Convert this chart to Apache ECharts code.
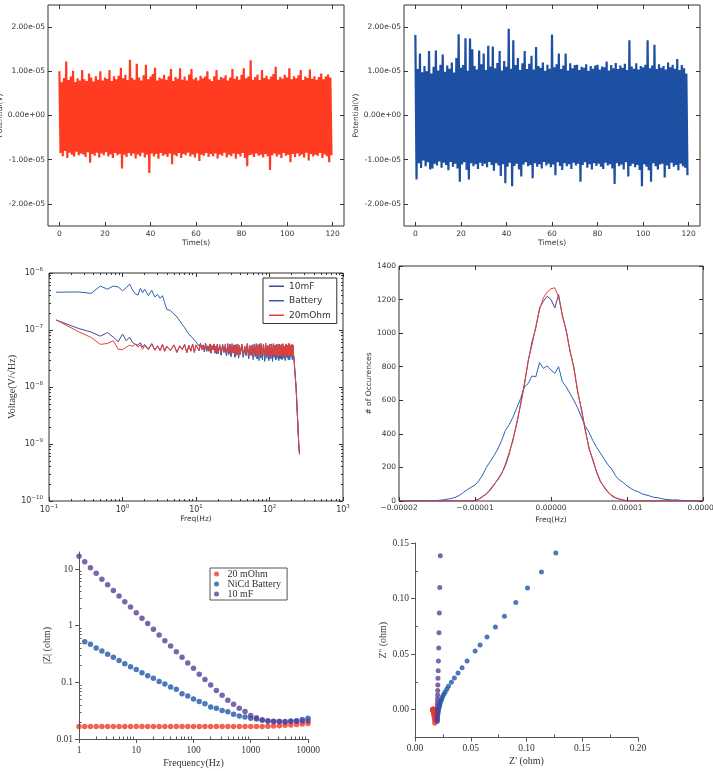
<!DOCTYPE html>
<html><head><meta charset="utf-8">
<script src="https://cdn.jsdelivr.net/npm/echarts@6/dist/echarts.min.js"></script>
<style>html,body{margin:0;padding:0;background:#fff}#c{width:713px;height:771px}</style>
</head><body><div id="c"></div>
<script>
// ===================== DATA =====================
// Top panels: per-second upper / lower envelope of the noise trace (units of 1e-6 V)
const timeTicks = [0, 20, 40, 60, 80, 100, 120];
const potentialTicks = [-2e-5, -1e-5, 0, 1e-5, 2e-5];
const noiseRedHi = [
 10,7.5,8.5,12.2,8,8.8,10.1,7.6,8.4,7.9,
 10.3,8.2,7.8,9.5,8.6,7.7,8.9,8.1,10,7.9,
 8.6,8.3,10.3,7.8,8.9,8.2,9,10.8,8.4,9.2,
 8,12.6,8.5,8.1,11.7,8.6,7.9,9.1,11.5,8.2,
 8.8,9.4,10.8,7.9,8.6,8.3,9.2,8.1,8.9,10.5,
 7.8,8.7,8.3,10.7,8.1,8.8,7.9,9.3,10.5,8.2,
 8.6,7.9,9,8.4,8.8,10,8.2,7.8,8.9,10.3,
 8.1,8.7,8.4,9.1,7.9,8.6,10.5,8.3,8.9,8.1,
 9.2,10.7,8.4,8.8,12.5,8.1,8.7,9.3,8,10.3,
 8.5,9,8.2,8.8,9.4,11,8.1,8.7,8.3,9.2,
 8.6,10.7,8.2,8.9,8.4,9.1,10.3,8,8.8,8.5,
 10.4,8.3,8.9,8.1,8.7,9.5,8.2,8.8,9.3,8.6];
const noiseRedLo = [
 -8.5,-9.2,-8,-9.6,-8.4,-8.9,-9.3,-8.2,-9,-8.6,
 -8.8,-9.4,-8.3,-10.7,-8.7,-9.1,-8.4,-9.5,-8.6,-9,
 -8.3,-9.3,-8.8,-9.6,-8.5,-9,-8.7,-12,-8.9,-9.4,
 -8.5,-9.1,-8.6,-9.7,-8.8,-9.2,-8.4,-9.5,-8.9,-13,
 -8.6,-9.3,-8.7,-9.8,-8.5,-9.1,-8.8,-9.4,-8.6,-11,
 -8.9,-9.2,-8.5,-9.6,-8.7,-9,-8.4,-9.3,-8.8,-9.5,
 -8.6,-10.3,-8.9,-9.1,-8.5,-9.4,-8.7,-9.2,-8.6,-9.7,
 -8.8,-9.1,-8.4,-9.5,-8.9,-9.2,-8.6,-9.8,-8.7,-9.3,
 -8.5,-9.6,-11.5,-9,-8.8,-9.4,-8.6,-9.1,-8.9,-9.5,
 -8.7,-9.2,-12.3,-9,-8.6,-9.3,-8.8,-9.6,-8.5,-9.1,
 -8.9,-10.6,-8.7,-9.4,-8.6,-9.2,-8.8,-9.5,-8.4,-10.2,
 -8.7,-9.3,-8.9,-9.1,-8.5,-9.6,-8.8,-9.2,-10.6,-9];
const noiseBlueHi = [
 18.2,10.5,14,9.8,11.2,10,14.6,9.5,11,14.7,
 10.2,11.5,13.8,9.9,11.3,10.6,12,9.7,13,18.4,
 10.8,11.4,17.5,10.1,17.4,15,11.2,10.4,14.7,11.6,
 14,10.3,15.8,11.1,15.6,10.7,11.9,14.6,10.2,12.3,
 11,19.6,10.6,17,11.4,13,10.3,11.8,14.6,10.5,
 11.7,13.5,10.4,15.5,11.2,10.8,12,10.1,11.5,10.6,
 18.3,10.9,11.6,14,10.5,11.3,14,10.2,11.8,10.7,
 11.4,11.5,10.3,11,10.8,11.6,10.1,11.2,10.6,11.3,
 11.5,10.4,11.1,10.9,12.2,10.2,11.4,10.7,11.9,10.5,
 11.3,10.8,11.7,10.3,17,11.1,10.6,11.8,10.4,11.2,
 10.9,11.5,17,10.7,11.3,16,10.5,11.6,10.8,11.2,
 10.4,12,10.9,11.5,10.6,12.8,10.3,11.4,10.7,9.5];
const noiseBlueLo = [
 -14.5,-10.8,-11.9,-10.2,-11.5,-10.6,-12.2,-12,-10.9,-11.3,
 -10.4,-11.8,-10.7,-11.2,-12.4,-10.5,-11.6,-10.9,-12,-15,
 -11.1,-10.6,-12.3,-14.5,-10.8,-11.5,-11,-12.1,-10.7,-11.4,
 -10.9,-11.7,-10.5,-11.2,-12.5,-10.8,-11.3,-13.7,-11,-15.3,
 -11.6,-10.7,-16,-11.4,-10.9,-12.2,-13.8,-11.1,-10.6,-11.5,
 -11.2,-14.2,-10.8,-11.6,-11,-12,-10.5,-11.3,-10.9,-11.7,
 -11.1,-13.5,-10.6,-11.4,-12.3,-10.8,-11.5,-11,-12.1,-10.7,
 -11.3,-10.9,-15,-11.2,-10.6,-11.8,-11,-12.2,-10.8,-11.4,
 -10.9,-11.6,-12.1,-10.7,-11.3,-11,-12,-15.5,-10.8,-11.5,
 -11.1,-12.2,-10.6,-13.8,-11.4,-10.9,-11.7,-11.2,-12.3,-16,
 -11,-11.6,-12.4,-15,-10.8,-11.5,-12.2,-11.1,-10.9,-14,
 -11.3,-12.1,-10.7,-11.6,-11.2,-12.4,-10.9,-11.5,-11.8,-13.5];

// Middle-left: noise spectral density (units of 1e-8 V/sqrt(Hz))
const psdFreq = [0.125,0.25,0.375,0.5,0.625,0.75,0.875,1,1.125,1.25,1.375,1.5,1.625,1.75,1.875,2,
 2.25,2.5,2.75,3,3.25,3.5,3.75,4,4.5,5,5.5,6,6.5,7,7.5,8,8.5,9,9.5,10,
 10.5,11,11.5,12,12.5,13,13.5,14,14.5,15,15.5,16,16.5,17,17.5,18,18.5,19,19.5,20,
 21,22,23,24,25,26,27,28,29,30,31,32,33,34,35,36,37,38,39,40,
 42,44,46,48,50,52,54,56,58,60,62,64,66,68,70,72,74,76,78,80,
 83,86,89,92,95,98,101,104,107,110,113,116,119,122,125,128,131,134,137,140,
 144,148,152,156,160,164,168,172,176,180,184,188,192,196,200,204,208,212,
 216,220,225,230,240,250,256];
const psd10mF = [15,10.7,9.2,7.8,9.0,7.5,6.2,8.5,6.5,7.5,6.0,5.6,5.4,6.0,5.0,5.6,
 4.7,5.8,4.5,5.3,4.4,5.6,4.3,5.2,4.4,5.5,4.1,5.3,4.6,5.6,4.0,5.4,4.3,5.7,4.1,5.5,
 5.4,4.3,5.8,4.6,5.2,4.1,5.6,4.4,5.0,4.2,5.7,3.9,5.3,4.5,5.5,4.0,5.1,3.8,5.6,4.2,
 5.2,3.7,5.6,4.1,5.0,3.6,5.4,3.9,5.7,3.5,5.1,4.0,5.5,3.4,5.2,3.8,5.6,3.3,5.0,3.7,
 5.5,3.4,5.1,3.8,5.7,3.2,5.3,3.6,5.0,3.3,5.6,3.5,5.2,3.1,5.4,3.7,5.8,3.2,5.1,3.4,
 5.6,3.0,5.2,3.5,5.4,3.1,5.0,3.3,5.7,2.9,5.3,3.4,5.5,3.0,5.1,3.6,5.4,3.1,5.6,3.2,
 5.2,3.1,5.5,3.3,5.0,3.0,5.7,3.4,5.3,3.2,5.6,3.0,5.4,3.5,5.1,3.3,5.5,3.7,
 3.1,2.1,1.45,0.98,0.31,0.1,0.066];
const psdBattery = [46,46.5,44,59,52,59,57,49,55,64,50,43,41,54,45,52,
 40,50,38,42,36,40,30,23,22,19,17,14.5,12.5,11,9.5,8.5,8,7.2,6.8,6.2,
 6.0,5.2,5.8,4.6,5.5,4.4,5.9,4.2,5.3,4.8,5.6,4.0,5.1,4.5,5.7,3.9,5.2,4.3,5.6,3.8,
 5.4,3.6,5.5,4.0,5.2,3.5,5.8,3.7,5.0,3.4,5.5,3.9,5.3,3.3,5.6,3.6,5.1,3.2,5.4,3.8,
 5.6,3.3,5.2,3.5,5.7,3.1,5.0,3.6,5.5,3.0,5.3,3.4,5.8,3.1,5.1,2.9,5.4,3.3,5.6,3.0,
 5.2,2.8,5.5,3.2,5.0,2.9,5.7,3.1,5.3,2.8,5.4,3.3,5.1,3.0,5.6,3.2,5.2,2.9,5.5,3.1,
 5.3,3.0,5.6,3.2,5.1,2.9,5.5,3.3,5.4,3.0,5.7,3.1,5.2,3.4,5.5,3.0,5.3,3.6,
 3.0,2.0,1.4,0.95,0.3,0.1,0.066];
const psd20mOhm = [15,9.4,7.4,5.6,5.8,6.5,4.6,4.5,5.0,5.4,5.2,5.6,5.0,5.5,4.6,5.3,
 4.5,5.6,4.4,5.2,4.3,5.5,4.2,5.1,4.4,5.4,4.0,5.2,4.5,5.5,4.0,5.3,4.2,5.6,4.0,5.4,
 5.5,4.4,5.7,4.5,5.3,4.2,5.8,4.6,5.1,4.3,5.6,4.1,5.4,4.6,5.7,4.0,5.2,4.2,5.5,3.9,
 5.6,3.9,5.3,4.2,5.7,3.8,5.2,4.1,5.5,3.7,5.8,4.0,5.1,3.6,5.4,3.9,5.7,3.5,5.3,3.8,
 5.6,3.6,5.2,3.9,5.8,3.5,5.4,3.7,5.1,3.4,5.7,3.8,5.3,3.5,5.6,3.6,5.2,3.4,5.8,3.7,
 5.5,3.4,5.9,3.6,5.2,3.5,5.6,3.3,5.4,3.7,5.8,3.4,5.1,3.6,5.5,3.3,5.7,3.5,5.3,3.6,
 5.6,3.4,5.8,3.5,5.2,3.3,5.7,3.6,5.4,3.4,5.9,3.5,5.3,3.7,5.6,3.4,5.5,3.8,
 3.2,2.2,1.5,1.0,0.32,0.1,0.066];

// Middle-right: histogram of the noise (bin centres in units of 1e-6 V)
const histX = [-20,-19.5,-19,-18.5,-18,-17.5,-17,-16.5,-16,-15.5,-15,-14.5,-14,-13.5,-13,-12.5,-12,-11.5,-11,-10.5,
 -10,-9.5,-9,-8.5,-8,-7.5,-7,-6.5,-6,-5.5,-5,-4.5,-4,-3.5,-3,-2.5,-2,-1.5,-1,-0.5,
 0,0.5,1,1.5,2,2.5,3,3.5,4,4.5,5,5.5,6,6.5,7,7.5,8,8.5,9,9.5,
 10,10.5,11,11.5,12,12.5,13,13.5,14,14.5,15,15.5,16,16.5,17,17.5,18,18.5,19,19.5,20];
const hist10mF = [0,0,0,0,0,0,0,0,0,0,0,0,0,0,0,0,0,0,0,0,
 3,12,28,40,65,95,130,165,210,280,370,460,580,700,830,950,1030,1150,1190,1220,
 1200,1150,1230,1100,1020,890,800,650,550,430,310,250,170,115,85,55,30,18,12,6,
 2,0,0,0,0,0,0,0,0,0,0,0,0,0,0,0,0,0,0,0,0];
const histBattery = [0,0,0,0,0,1,1,2,2,3,3,5,8,12,16,24,35,52,68,82,
 95,120,155,200,235,270,310,360,420,455,500,555,610,680,700,745,740,825,790,805,
 780,760,800,710,680,640,600,555,500,445,410,360,320,285,250,215,190,150,125,110,
 90,75,62,55,42,36,30,22,20,15,10,8,6,7,4,3,2,1,1,0,0];
const hist20mOhm = [0,0,0,0,0,0,0,0,0,0,0,0,0,0,0,0,0,0,0,0,
 2,10,25,45,70,100,125,160,220,290,360,470,570,690,840,930,1040,1140,1210,1245,
 1265,1270,1215,1110,1010,900,790,660,540,420,320,240,175,120,80,50,35,20,10,5,
 2,0,0,0,0,0,0,0,0,0,0,0,0,0,0,0,0,0,0,0,0];

// Bottom-left: |Z| vs frequency
const eisFreq = [1,1.259,1.585,1.995,2.512,3.162,3.981,5.012,6.31,7.943,
 10,12.59,15.85,19.95,25.12,31.62,39.81,50.12,63.1,79.43,
 100,125.9,158.5,199.5,251.2,316.2,398.1,501.2,631,794.3,
 1000,1259,1585,1995,2512,3162,3981,5012,6310,7943,10000];
const mag20mOhm = [0.0166,0.0166,0.0166,0.0166,0.0166,0.0166,0.0166,0.0166,0.0166,0.0166,
 0.0166,0.0166,0.0166,0.0166,0.0166,0.0166,0.0166,0.0166,0.0166,0.0166,
 0.0166,0.0166,0.0166,0.0166,0.0166,0.0166,0.0166,0.0166,0.0166,0.0166,
 0.0166,0.0166,0.0167,0.0168,0.0170,0.0171,0.0174,0.0176,0.0180,0.0184,0.0188];
const magBattery = [null,0.522,0.469,0.404,0.357,0.312,0.277,0.242,0.214,0.189,
 0.168,0.148,0.131,0.118,0.104,0.0935,0.0828,0.0753,0.0632,0.0575,
 0.0509,0.0457,0.0421,0.0368,0.0349,0.0317,0.0304,0.0273,0.0255,0.0245,
 0.0232,0.0226,0.0217,0.0208,0.0206,0.0203,0.0203,0.0208,0.0211,0.0220,0.0232];
const mag10mF = [16.9,13.5,10.5,8.4,6.6,5.3,4.2,3.34,2.65,2.13,
 1.70,1.35,1.09,0.863,0.686,0.545,0.438,0.348,0.277,0.220,
 0.177,0.139,0.112,0.090,0.0715,0.0591,0.0482,0.041,0.0349,0.0305,
 0.0259,0.0236,0.0217,0.0208,0.0203,0.0203,0.0200,0.0203,0.0206,0.0208,0.0211];

// Bottom-right: Nyquist (Z' , Z'') in ohm
const nyqRe20mOhm = [0.0161,0.0162,0.0162,0.0161,0.0162,0.0162,0.0162,0.0161,0.0162,0.0162,
 0.0162,0.0162,0.0161,0.0162,0.0162,0.0162,0.0162,0.0162,0.0162,0.0162,
 0.0162,0.0162,0.0162,0.0163,0.0162,0.0163,0.0163,0.0163,0.0163,
 0.0163,0.0163,0.0164,0.0165,0.0166,0.0167,0.0168,0.0170,0.0171,0.0173,0.0175,0.0177];
const nyqIm20mOhm = [0.0006,0.0005,0.0005,0.0004,0.0004,0.0003,0.0003,0.0003,0.0002,0.0002,
 0.0002,0.0001,0.0001,0.0001,0,0,0,-0.0001,-0.0001,-0.0001,
 -0.0002,-0.0002,-0.0002,-0.0003,-0.0003,-0.0004,-0.0004,-0.0005,-0.0006,
 -0.0008,-0.0011,-0.0014,-0.0018,-0.0023,-0.0030,-0.0038,-0.0048,-0.0060,-0.0076,-0.0096,-0.0121];
const nyqReBattery = [0.1263,0.1134,0.1009,0.0904,0.0802,0.0721,0.0646,0.0584,0.0539,0.0467,0.0422,0.0386,0.0353,0.0326,
 0.0300,0.0285,0.0270,0.0258,0.0248,0.0240,0.0233,0.0226,0.0222,0.0218,0.0214,0.0211,0.0208,0.0206,0.0204,0.0202,0.0200,0.0199];
const nyqImBattery = [0.1409,0.1238,0.1094,0.0965,0.0842,0.0744,0.0654,0.0582,0.0528,0.0438,0.0378,0.0330,0.0285,0.0246,
 0.0210,0.0185,0.0160,0.0140,0.0118,0.0098,0.0080,0.0062,0.0045,0.0030,0.0015,0,-0.0015,-0.0030,-0.0045,-0.0060,-0.0078,-0.0096];
const nyqRe10mF = [0.0227,0.0222,0.0218,0.0215,0.0213,0.0210,0.0208,0.0206,0.0205,0.0204,
 0.0203,0.0202,0.0201,0.0200,0.0200,0.0200,0.0199,0.0199,0.0199,0.0199];
const nyqIm10mF = [0.1385,0.110,0.087,0.0692,0.0555,0.0438,0.0351,0.0282,0.0222,0.0174,
 0.0132,0.0096,0.0062,0.0033,0.0008,-0.0015,-0.0038,-0.0060,-0.0082,-0.0105];

// ===================== STYLE / BUILD =====================
const SANS = 'DejaVu Sans', SERIF = 'Liberation Serif', INK = '#333', AX = '#555';
const C_RED_TOP = '#ff3b22', C_BLUE_TOP = '#1d4fa3';
const C_10MF = '#3d4a9f', C_BAT = '#2b62b3', C_20M = '#ee3d33';
const C_E_RED = '#ee3b24', C_E_BLUE = '#1f57a8', C_E_PURPLE = '#5a3f98';

const xAxes = [], yAxes = [], series = [];
function axis(dim, grid, o) {
  const a = {
    gridIndex: grid, type: o.type || 'value', position: o.pos, min: o.min, max: o.max,
    axisLine: { show: !!o.line, onZero: false, lineStyle: { color: AX, width: 1 } },
    axisTick: o.ticks ? { show: true, inside: o.inside !== false, length: o.len || 4,
      customValues: o.ticks, lineStyle: { color: o.tickColor || INK, width: 1 } } : { show: false },
    axisLabel: o.labels ? { show: true, customValues: o.ticks, formatter: o.fmt, fontSize: o.fs,
      fontFamily: o.ff, color: INK, margin: o.margin, rich: o.rich, hideOverlap: false } : { show: false },
    splitLine: { show: false }, silent: true, z: 5
  };
  if (a.type === 'log') a.logBase = 10;
  if (o.name) {
    a.name = o.name; a.nameLocation = 'middle'; a.nameGap = o.nameGap;
    a.nameTextStyle = { fontSize: o.nfs || o.fs, fontFamily: o.nff || o.ff, color: INK };
  }
  const arr = dim === 'x' ? xAxes : yAxes;
  arr.push(a); return arr.length - 1;
}
function sci(v) {
  if (v === 0) return '0.00e+00';
  const parts = v.toExponential(2).split('e');
  const sign = parts[1][0] === '-' ? '-' : '+';
  let d = parts[1].replace(/^[+-]/, ''); if (d.length < 2) d = '0' + d;
  return parts[0] + 'e' + sign + d;
}
function minorsLog(e0, e1) { const r = []; for (let e = e0; e <= e1; e++) for (let k = 2; k <= 9; k++) r.push(+(k * Math.pow(10, e)).toPrecision(3)); return r; }

const grids = [
  { left: 48, top: 5, width: 296, height: 221 },
  { left: 404, top: 5, width: 296, height: 221 },
  { left: 49, top: 273, width: 294, height: 228 },
  { left: 399, top: 266, width: 304, height: 235 },
  { left: 79, top: 552, width: 229, height: 187 },
  { left: 415, top: 543, width: 223, height: 194.5 }
].map((g, i) => Object.assign(g, { containLabel: false, outerBoundsMode: 'none',
  show: i < 4, borderColor: INK, borderWidth: 1, backgroundColor: 'transparent' }));

// --- top panels ---
function zigzag(hi, lo) { const d = []; for (let i = 0; i < hi.length; i++) { d.push([i, hi[i] * 1e-6]); d.push([i + 0.5, lo[i] * 1e-6]); } return d; }
[[0, noiseRedHi, noiseRedLo, C_RED_TOP, 41], [1, noiseBlueHi, noiseBlueLo, C_BLUE_TOP, 40]].forEach(([g, hi, lo, col, ng]) => {
  const xb = axis('x', g, { pos: 'bottom', min: -5, max: 125, ticks: timeTicks, labels: true, fs: 7.5, ff: SANS, margin: 4, name: 'Time(s)', nameGap: 13 });
  axis('x', g, { pos: 'top', min: -5, max: 125, ticks: timeTicks });
  const yl = axis('y', g, { pos: 'left', min: -2.5e-5, max: 2.5e-5, ticks: potentialTicks, labels: true, fmt: sci, fs: 7.5, ff: SANS, margin: 3, name: 'Potential(V)', nameGap: ng });
  axis('y', g, { pos: 'right', min: -2.5e-5, max: 2.5e-5, ticks: potentialTicks });
  series.push({ type: 'line', name: 'trace' + g, xAxisIndex: xb, yAxisIndex: yl, data: zigzag(hi, lo), symbol: 'none', showSymbol: false,
    sampling: null, lineStyle: { color: col, width: 2.2, join: 'miter' }, itemStyle: { color: col }, silent: true, clip: true });
});

// --- middle-left PSD ---
const supRich = { b: { fontSize: 8, fontFamily: SANS, color: INK }, s: { fontSize: 5.5, fontFamily: SANS, color: INK, padding: [0, 0, 6, 0] } };
const powFmt = v => '{b|10}{s|' + String(Math.round(Math.log10(v))).replace('-', '\u2212') + '}';
{
  const g = 2, xt = [0.1, 1, 10, 100, 1000], yt = [1e-10, 1e-9, 1e-8, 1e-7, 1e-6];
  const xm = minorsLog(-1, 2), ym = minorsLog(-10, -7);
  const xb = axis('x', g, { type: 'log', pos: 'bottom', min: 0.1, max: 1000, ticks: xt, labels: true, fmt: powFmt, rich: supRich, fs: 8, ff: SANS, margin: 3, name: 'Freq(Hz)', nameGap: 14, nfs: 7.5 });
  axis('x', g, { type: 'log', pos: 'bottom', min: 0.1, max: 1000, ticks: xm, len: 2 });
  axis('x', g, { type: 'log', pos: 'top', min: 0.1, max: 1000, ticks: xt });
  axis('x', g, { type: 'log', pos: 'top', min: 0.1, max: 1000, ticks: xm, len: 2 });
  const yl = axis('y', g, { type: 'log', pos: 'left', min: 1e-10, max: 1e-6, ticks: yt, labels: true, fmt: powFmt, rich: supRich, fs: 8, ff: SANS, margin: 6, name: 'Voltage(V/\u221AHz)', nameGap: 27, nfs: 10, nff: SERIF });
  axis('y', g, { type: 'log', pos: 'left', min: 1e-10, max: 1e-6, ticks: ym, len: 2 });
  axis('y', g, { type: 'log', pos: 'right', min: 1e-10, max: 1e-6, ticks: yt });
  axis('y', g, { type: 'log', pos: 'right', min: 1e-10, max: 1e-6, ticks: ym, len: 2 });
  [['10mF', psd10mF, C_10MF], ['Battery', psdBattery, C_BAT], ['20mOhm', psd20mOhm, C_20M]].forEach(([n, v, c]) => {
    series.push({ type: 'line', name: n, xAxisIndex: xb, yAxisIndex: yl, data: psdFreq.map((f, i) => [f, v[i] * 1e-8]),
      symbol: 'none', lineStyle: { color: c, width: 1 }, itemStyle: { color: c }, silent: true });
  });
}

// --- middle-right histogram ---
{
  const g = 3, xt = [-2e-5, -1e-5, 0, 1e-5, 2e-5], yt = [0, 200, 400, 600, 800, 1000, 1200, 1400];
  const fx = v => (v < 0 ? '\u2212' : '') + Math.abs(v).toFixed(5);
  const xb = axis('x', g, { pos: 'bottom', min: -2e-5, max: 2e-5, ticks: xt, labels: true, fmt: fx, fs: 7.5, ff: SANS, margin: 3, name: 'Freq(Hz)', nameGap: 15 });
  axis('x', g, { pos: 'top', min: -2e-5, max: 2e-5, ticks: xt });
  const yl = axis('y', g, { pos: 'left', min: 0, max: 1400, ticks: yt, labels: true, fmt: v => String(v), fs: 7.5, ff: SANS, margin: 3, name: '# of Occurences', nameGap: 26 });
  axis('y', g, { pos: 'right', min: 0, max: 1400, ticks: yt });
  [['10mF', hist10mF, C_10MF], ['Battery', histBattery, C_BAT], ['20mOhm', hist20mOhm, C_20M]].forEach(([n, v, c]) => {
    series.push({ type: 'line', name: n, xAxisIndex: xb, yAxisIndex: yl, data: histX.map((x, i) => [x * 1e-6, v[i]]),
      symbol: 'none', lineStyle: { color: c, width: 1 }, itemStyle: { color: c }, silent: true });
  });
}

// --- bottom-left Bode |Z| ---
{
  const g = 4, xt = [1, 10, 100, 1000, 10000], yt = [0.01, 0.1, 1, 10];
  const f = v => v >= 1 ? String(Math.round(v)) : String(+v.toPrecision(1));
  const xb = axis('x', g, { type: 'log', pos: 'bottom', min: 1, max: 10000, line: true, ticks: xt, inside: false, len: 4, tickColor: AX, labels: true, fmt: f, fs: 9.5, ff: SERIF, margin: 6, name: 'Frequency(Hz)', nameGap: 19, nfs: 10 });
  axis('x', g, { type: 'log', pos: 'bottom', min: 1, max: 10000, ticks: minorsLog(0, 3), len: 2.5, tickColor: AX });
  const yl = axis('y', g, { type: 'log', pos: 'left', min: 0.01, max: 20, line: true, ticks: yt, inside: false, len: 4, tickColor: AX, labels: true, fmt: f, fs: 9.5, ff: SERIF, margin: 6, name: '|Z| (ohm)', nameGap: 23, nfs: 10 });
  axis('y', g, { type: 'log', pos: 'left', min: 0.01, max: 20, ticks: minorsLog(-2, 0), len: 2.5, tickColor: AX });
  [['20 mOhm', mag20mOhm, C_E_RED], ['NiCd Battery', magBattery, C_E_BLUE], ['10 mF', mag10mF, C_E_PURPLE]].forEach(([n, v, c]) => {
    series.push({ type: 'scatter', name: n, xAxisIndex: xb, yAxisIndex: yl,
      data: eisFreq.map((fr, i) => v[i] == null ? null : [fr, v[i]]).filter(d => d),
      symbol: 'circle', symbolSize: 5.5, itemStyle: { color: c }, silent: true, clip: true });
  });
}

// --- bottom-right Nyquist ---
{
  const g = 5, xt = [0, 0.05, 0.1, 0.15, 0.2], yt = [0, 0.05, 0.1, 0.15];
  const f2 = v => v.toFixed(2);
  const xb = axis('x', g, { pos: 'bottom', min: 0, max: 0.2, line: true, ticks: xt, inside: false, len: 4, tickColor: AX, labels: true, fmt: f2, fs: 9.5, ff: SERIF, margin: 6, name: "Z' (ohm)", nameGap: 19, nfs: 10 });
  axis('x', g, { pos: 'bottom', min: 0, max: 0.2, ticks: [0.025, 0.075, 0.125, 0.175], len: 3, tickColor: AX });
  const yl = axis('y', g, { pos: 'left', min: -0.025, max: 0.15, line: true, ticks: yt, inside: false, len: 4, tickColor: AX, labels: true, fmt: f2, fs: 9.5, ff: SERIF, margin: 6, name: "Z'' (ohm)", nameGap: 27, nfs: 10 });
  axis('y', g, { pos: 'left', min: -0.025, max: 0.15, ticks: [0.025, 0.075, 0.125], len: 3, tickColor: AX });
  [['20 mOhm', nyqRe20mOhm, nyqIm20mOhm, C_E_RED], ['NiCd Battery', nyqReBattery, nyqImBattery, C_E_BLUE], ['10 mF', nyqRe10mF, nyqIm10mF, C_E_PURPLE]].forEach(([n, re, im, c]) => {
    series.push({ type: 'scatter', name: n, xAxisIndex: xb, yAxisIndex: yl, data: re.map((r, i) => [r, im[i]]),
      symbol: 'circle', symbolSize: 5, itemStyle: { color: c }, silent: true, clip: true });
  });
}

const chart = echarts.init(document.getElementById('c'), null, { renderer: 'canvas' });
chart.setOption({
  animation: false, backgroundColor: '#fff',
  grid: grids, xAxis: xAxes, yAxis: yAxes, series: series,
  legend: [
    { left: 263, top: 278, orient: 'vertical', data: ['10mF', 'Battery', '20mOhm'], selectedMode: false,
      icon: 'rect', borderColor: INK, borderWidth: 1, padding: [3, 6, 3, 6], itemGap: 4, itemWidth: 15, itemHeight: 1.5,
      textStyle: { fontSize: 9, fontFamily: SANS, color: INK, lineHeight: 10.5 } },
    { left: 210, top: 568, orient: 'vertical', data: ['20 mOhm', 'NiCd Battery', '10 mF'], selectedMode: false,
      icon: 'circle', borderColor: AX, borderWidth: 1, padding: [1, 6, 1, 4], itemGap: 0, itemWidth: 12, itemHeight: 5,
      textStyle: { fontSize: 10, fontFamily: SERIF, color: INK, lineHeight: 10 } }
  ]
});
</script>
</body></html>
